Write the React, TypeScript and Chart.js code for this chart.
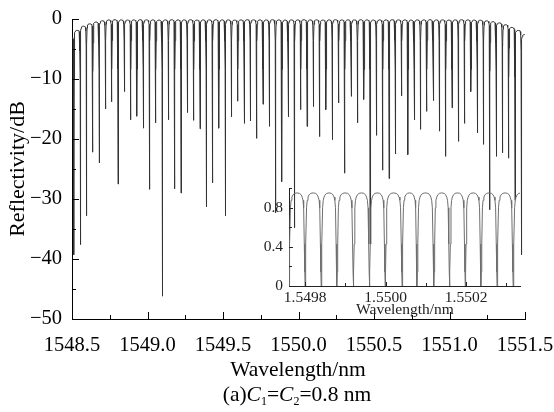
import React, { useEffect, useRef } from 'react';
import { Chart, registerables } from 'chart.js';

Chart.register(...registerables);

// ---- main spectrum (dB): dip wavelengths, dip depths, lobe peak levels ----
const DIP_WL = [
  1548.471,
  1548.513, 1548.555, 1548.596, 1548.638, 1548.680, 1548.722, 1548.763, 1548.805, 1548.847, 1548.889,
  1548.930, 1548.972, 1549.014, 1549.055, 1549.097, 1549.139, 1549.181, 1549.222, 1549.264, 1549.306,
  1549.348, 1549.389, 1549.431, 1549.473, 1549.515, 1549.556, 1549.598, 1549.640, 1549.681, 1549.723,
  1549.765, 1549.807, 1549.848, 1549.890, 1549.932, 1549.974, 1550.015, 1550.057, 1550.099, 1550.140,
  1550.182, 1550.224, 1550.266, 1550.307, 1550.349, 1550.391, 1550.433, 1550.474, 1550.516, 1550.558,
  1550.600, 1550.641, 1550.683, 1550.725, 1550.766, 1550.808, 1550.850, 1550.892, 1550.933, 1550.975,
  1551.017, 1551.059, 1551.100, 1551.142, 1551.184, 1551.225, 1551.267, 1551.309, 1551.351, 1551.392,
  1551.434, 1551.476,
  1551.518,
];

const DIP_DB = [
  -30,
  -39.3, -37.6, -32.8, -22.2, -24.0, -15.0, -13.8, -27.5, -12.1, -16.8,
  -16.2, -18.2, -28.4, -17.3, -46.2, -16.8, -28.3, -29.0, -15.6, -16.9,
  -18.3, -31.3, -27.3, -18.2, -32.8, -16.3, -13.7, -17.4, -17.0, -19.9,
  -14.2, -17.9, -32.3, -27.1, -16.3, -34.8, -15.1, -17.9, -14.6, -19.6,
  -15.1, -20.1, -14.0, -25.7, -12.9, -17.3, -13.4, -37.5, -19.4, -25.2,
  -26.6, -22.5, -12.8, -22.6, -16.8, -18.4, -15.4, -13.6, -18.7, -22.9,
  -14.8, -20.4, -17.4, -12.1, -19.0, -20.9, -31.8, -22.9, -22.3, -23.2,
  -30.2, -39.3,
  -30,
];

// 73 lobes (one between each pair of neighbouring dips)
const PEAK_DB = [
  -3.0, -1.9, -1.2, -0.8, -0.5, -0.3,
  -0.15, -0.12, -0.15, -0.18, -0.15, -0.12, -0.15, -0.15, -0.18, -0.15,
  -0.12, -0.15, -0.15, -0.12, -0.18, -0.15, -0.15, -0.12, -0.15, -0.15,
  -0.18, -0.15, -0.12, -0.15, -0.15, -0.15, -0.12, -0.15, -0.18, -0.15,
  -0.15, -0.12, -0.15, -0.15, -0.18, -0.15, -0.12, -0.15, -0.15, -0.15,
  -0.12, -0.15, -0.18, -0.15, -0.15, -0.12, -0.15, -0.15, -0.18, -0.15,
  -0.15, -0.12, -0.15, -0.15, -0.18, -0.15, -0.12, -0.15, -0.18, -0.2,
  -0.3, -0.45, -0.65, -0.95, -1.4, -1.9, -2.6,
];

// ---- inset spectrum (linear) ----
const INSET_DIP_WL = [
  1549.760, 1549.800, 1549.840, 1549.879, 1549.920, 1549.960, 1549.999, 1550.041,
  1550.078, 1550.120, 1550.159, 1550.198, 1550.237, 1550.277, 1550.317, 1550.357,
];
const INSET_DIP_VAL = [0, 0, 0, 0, 0, 0, 0, 0, 0, 0, 0, 0, 0, 0, 0, 0];
const INSET_PEAK = [0.95, 0.95, 0.95, 0.95, 0.95, 0.95, 0.95, 0.95, 0.95, 0.95, 0.95, 0.95, 0.95, 0.95, 0.95];

// ---- lobe profile (fraction of period from lobe centre) ----
const LOBE_U = [0, 0.15, 0.25, 0.32, 0.37, 0.41, 0.45, 0.48];
const LOBE_LIN = [1, 0.995, 0.98, 0.955, 0.92, 0.84, 0.45, 0.15];
const LOBE_DB = [0, -0.02, -0.09, -0.2, -0.36, -0.76, -3.47, -8.24];

// ---- ticks ----
const MAIN_X_TICKS = [1548.5, 1548.75, 1549, 1549.25, 1549.5, 1549.75, 1550, 1550.25, 1550.5, 1550.75, 1551, 1551.25, 1551.5];
const MAIN_X_LABELS = ['1548.5', '', '1549.0', '', '1549.5', '', '1550.0', '', '1550.5', '', '1551.0', '', '1551.5'];
const MAIN_Y_TICKS = [-50, -45, -40, -35, -30, -25, -20, -15, -10, -5, 0];
const MAIN_Y_LABELS = ['\u221250', '', '\u221240', '', '\u221230', '', '\u221220', '', '\u221210', '', '0'];
const INSET_X_TICKS = [1549.8, 1549.9, 1550.0, 1550.1, 1550.2, 1550.3];
const INSET_X_LABELS = ['1.5498', '', '1.5500', '', '1.5502', ''];
const INSET_Y_TICKS = [0, 0.2, 0.4, 0.6, 0.8, 1.0];
const INSET_Y_LABELS = ['0', '', '0.4', '', '0.8', ''];

type Pt = { x: number; y: number };

function buildCurve(
  dipX: number[],
  dipY: number[],
  peaks: number[],
  rel: number[],
  combine: (p: number, r: number) => number
): Pt[] {
  const pts: Pt[] = [];
  for (let j = 0; j < dipX.length - 1; j++) {
    const a = dipX[j];
    const b = dipX[j + 1];
    const c = (a + b) / 2;
    const w = b - a;
    if (j === 0) pts.push({ x: a, y: dipY[0] });
    for (let k = LOBE_U.length - 1; k >= 0; k--) pts.push({ x: c - w * LOBE_U[k], y: combine(peaks[j], rel[k]) });
    for (let k = 1; k < LOBE_U.length; k++) pts.push({ x: c + w * LOBE_U[k], y: combine(peaks[j], rel[k]) });
    pts.push({ x: b, y: dipY[j + 1] });
  }
  return pts;
}

const inwardTicks = {
  id: 'inwardTicks',
  afterDraw(chart: any, _args: any, opts: any) {
    const { ctx, chartArea: ca } = chart;
    const xs = chart.scales.x;
    const ys = chart.scales.y;
    ctx.save();
    ctx.strokeStyle = opts.color || '#000';
    ctx.lineWidth = 1;
    ctx.beginPath();
    xs.ticks.forEach((t: any) => {
      const len = t.label ? opts.major : opts.minor;
      const px = Math.round(xs.getPixelForValue(t.value)) + 0.5;
      ctx.moveTo(px, ca.bottom);
      ctx.lineTo(px, ca.bottom - len);
    });
    ys.ticks.forEach((t: any) => {
      const len = t.label ? opts.major : opts.minor;
      const py = Math.round(ys.getPixelForValue(t.value)) + 0.5;
      ctx.moveTo(ca.left, py);
      ctx.lineTo(ca.left + len, py);
    });
    ctx.stroke();
    ctx.restore();
  },
};

const SERIF = "'Liberation Serif', 'Times New Roman', serif";

function fixSize(size: number, horizontal: boolean) {
  return (s: any) => {
    if (horizontal) s.height = size;
    else s.width = size;
    s.paddingLeft = 0;
    s.paddingRight = 0;
    s.paddingTop = 0;
    s.paddingBottom = 0;
  };
}

export default function App() {
  const mainRef = useRef<HTMLCanvasElement>(null);
  const insetRef = useRef<HTMLCanvasElement>(null);

  useEffect(() => {
    const mainData = buildCurve(DIP_WL, DIP_DB, PEAK_DB, LOBE_DB, (p, r) => p + r);
    const insetData = buildCurve(INSET_DIP_WL, INSET_DIP_VAL, INSET_PEAK, LOBE_LIN, (p, r) => p * r);

    const main = new Chart(mainRef.current as HTMLCanvasElement, {
      type: 'line',
      data: {
        datasets: [
          {
            data: mainData,
            borderColor: '#333333',
            borderWidth: 1,
            pointRadius: 0,
            tension: 0,
            fill: false,
          },
        ],
      },
      plugins: [inwardTicks],
      options: {
        animation: false,
        responsive: false,
        devicePixelRatio: 1,
        events: [],
        parsing: false,
        layout: { autoPadding: false, padding: { left: 0, right: 29, top: 19, bottom: 0 } },
        plugins: {
          legend: { display: false },
          tooltip: { enabled: false },
          inwardTicks: { major: 7, minor: 4, color: '#000' },
        } as any,
        scales: {
          x: {
            type: 'linear',
            position: 'bottom',
            min: 1548.5,
            max: 1551.5,
            afterBuildTicks: (s: any) => {
              s.ticks = MAIN_X_TICKS.map((v) => ({ value: v }));
            },
            afterFit: fixSize(93, true),
            grid: { display: false, drawTicks: false },
            border: { display: true, color: '#000', width: 1 },
            ticks: {
              autoSkip: false,
              maxRotation: 0,
              minRotation: 0,
              padding: 14,
              color: '#000',
              font: { family: SERIF, size: 20.5 },
              callback: (_v: any, i: number) => MAIN_X_LABELS[i],
            },
          },
          y: {
            type: 'linear',
            position: 'left',
            min: -50,
            max: 0,
            afterBuildTicks: (s: any) => {
              s.ticks = MAIN_Y_TICKS.map((v) => ({ value: v }));
            },
            afterFit: fixSize(72, false),
            grid: { display: false, drawTicks: false },
            border: { display: true, color: '#000', width: 1 },
            ticks: {
              autoSkip: false,
              padding: 10,
              color: '#000',
              font: { family: SERIF, size: 20.5 },
              callback: (_v: any, i: number) => MAIN_Y_LABELS[i],
            },
          },
        },
      } as any,
    });

    const inset = new Chart(insetRef.current as HTMLCanvasElement, {
      type: 'line',
      data: {
        datasets: [
          {
            data: insetData,
            borderColor: '#6e6e6e',
            borderWidth: 1,
            pointRadius: 0,
            tension: 0,
            fill: false,
          },
        ],
      },
      plugins: [inwardTicks],
      options: {
        animation: false,
        responsive: false,
        devicePixelRatio: 1,
        events: [],
        parsing: false,
        layout: { autoPadding: false, padding: { left: 0, right: 10, top: 10, bottom: 0 } },
        plugins: {
          legend: { display: false },
          tooltip: { enabled: false },
          inwardTicks: { major: 4, minor: 3, color: '#222' },
        } as any,
        scales: {
          x: {
            type: 'linear',
            position: 'bottom',
            min: 1549.76,
            max: 1550.334,
            afterBuildTicks: (s: any) => {
              s.ticks = INSET_X_TICKS.map((v) => ({ value: v }));
            },
            afterFit: fixSize(34, true),
            grid: { display: false, drawTicks: false },
            border: { display: true, color: '#222', width: 1 },
            ticks: {
              autoSkip: false,
              maxRotation: 0,
              minRotation: 0,
              padding: 3,
              color: '#222',
              font: { family: SERIF, size: 15.5 },
              callback: (_v: any, i: number) => INSET_X_LABELS[i],
            },
          },
          y: {
            type: 'linear',
            position: 'left',
            min: 0,
            max: 1.0,
            afterBuildTicks: (s: any) => {
              s.ticks = INSET_Y_TICKS.map((v) => ({ value: v }));
            },
            afterFit: fixSize(49, false),
            grid: { display: false, drawTicks: false },
            border: { display: true, color: '#222', width: 1 },
            ticks: {
              autoSkip: false,
              padding: 6,
              color: '#222',
              font: { family: SERIF, size: 15.5 },
              callback: (_v: any, i: number) => INSET_Y_LABELS[i],
            },
          },
        },
      } as any,
    });

    return () => {
      main.destroy();
      inset.destroy();
    };
  }, []);

  const text: React.CSSProperties = {
    position: 'absolute',
    fontFamily: SERIF,
    color: '#000',
    textAlign: 'center',
    whiteSpace: 'nowrap',
  };

  return (
    <div
      style={{
        position: 'fixed',
        left: 0,
        top: 0,
        width: 554,
        height: 412,
        background: '#fff',
        overflow: 'hidden',
      }}
    >
      <canvas
        ref={mainRef}
        width={554}
        height={412}
        style={{ position: 'absolute', left: 0, top: 0, width: 554, height: 412 }}
      />
      <canvas
        ref={insetRef}
        width={290}
        height={142}
        style={{ position: 'absolute', left: 240, top: 178, width: 290, height: 142 }}
      />
      <div
        style={{
          ...text,
          left: -83,
          top: 157,
          width: 200,
          height: 24,
          lineHeight: '24px',
          fontSize: 22,
          transform: 'rotate(-90deg)',
        }}
      >
        Reflectivity/dB
      </div>
      <div style={{ ...text, left: 198, top: 357, width: 200, lineHeight: '24px', fontSize: 21.5 }}>
        Wavelength/nm
      </div>
      <div style={{ ...text, left: 305, top: 300, width: 200, lineHeight: '18px', fontSize: 15.5, color: '#222' }}>
        Wavelength/nm
      </div>
      <div style={{ ...text, left: 197, top: 382, width: 200, lineHeight: '24px', fontSize: 21.5 }}>
        (a)<i>C</i>
        <sub style={{ fontSize: 12, verticalAlign: '-4px', lineHeight: 0 }}>1</sub>=<i>C</i>
        <sub style={{ fontSize: 12, verticalAlign: '-4px', lineHeight: 0 }}>2</sub>=0.8 nm
      </div>
    </div>
  );
}
